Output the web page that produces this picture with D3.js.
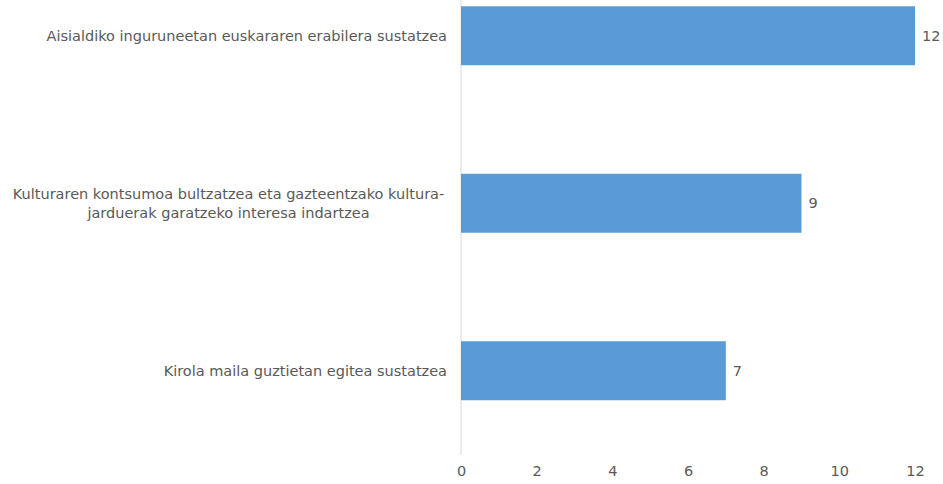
<!DOCTYPE html>
<html>
<head>
<meta charset="utf-8">
<script src="https://cdn.jsdelivr.net/npm/d3@7"></script>
<style>
  body { margin: 0; background: #fff; }
  text { font-family: "DejaVu Sans", Verdana, sans-serif; fill: #595959; }
</style>
</head>
<body>
<div id="chart"></div>
<script>
const categories = [
  "Aisialdiko inguruneetan euskararen erabilera sustatzea",
  "Kulturaren kontsumoa bultzatzea eta gazteentzako kultura-\njarduerak garatzeko interesa indartzea",
  "Kirola maila guztietan egitea sustatzea"
];
const values = [12, 9, 7];
const xTicks = [0, 2, 4, 6, 8, 10, 12];

const width = 943, height = 484;
const fs = 14.5;
const svg = d3.select("#chart").append("svg")
  .attr("width", width)
  .attr("height", height);

const xScale = d3.scaleLinear().domain([0, 12]).range([461, 915]);
const yScale = d3.scaleBand()
  .domain(categories)
  .range([-48, 454.5])
  .paddingInner(0.648)
  .paddingOuter(0.324);

// baseline at zero
svg.append("line")
  .attr("x1", xScale(0)).attr("x2", xScale(0))
  .attr("y1", 0).attr("y2", 455)
  .attr("stroke", "#d9d9d9")
  .attr("stroke-width", 1);

const xAxis = d3.axisBottom(xScale).tickValues(xTicks).tickSize(0).tickPadding(0);
const gx = svg.append("g")
  .attr("transform", "translate(0,466)")
  .call(xAxis);
gx.select(".domain").remove();
gx.selectAll("text")
  .attr("font-size", fs)
  .attr("dy", "0.71em")
  .attr("font-family", null);

svg.append("g")
  .selectAll("rect")
  .data(values)
  .enter()
  .append("rect")
  .attr("x", xScale(0))
  .attr("y", (d, i) => yScale(categories[i]))
  .attr("width", d => xScale(d) - xScale(0))
  .attr("height", yScale.bandwidth())
  .attr("fill", "#5b9bd5");

// value labels
svg.append("g")
  .selectAll("text")
  .data(values)
  .enter()
  .append("text")
  .attr("x", d => xScale(d) + 7)
  .attr("y", (d, i) => yScale(categories[i]) + yScale.bandwidth() / 2)
  .attr("dy", "0.35em")
  .attr("font-size", fs)
  .text(d => d);

// category labels, multi-line ones centered as a block
svg.append("g")
  .selectAll("text")
  .data(categories)
  .enter()
  .append("text")
  .attr("font-size", fs)
  .each(function(c) {
    const lines = c.split("\n");
    const t = d3.select(this);
    const cy = yScale(c) + yScale.bandwidth() / 2;
    const lh = 19;
    if (lines.length === 1) {
      t.attr("text-anchor", "end")
        .append("tspan")
        .attr("x", 447)
        .attr("y", cy)
        .attr("dy", "0.35em")
        .text(lines[0]);
    } else {
      t.attr("text-anchor", "middle");
      lines.forEach((ln, j) => {
        t.append("tspan")
          .attr("x", 228.5)
          .attr("y", cy + (j - (lines.length - 1) / 2) * lh)
          .attr("dy", "0.35em")
          .text(ln);
      });
    }
  });
</script>
</body>
</html>
